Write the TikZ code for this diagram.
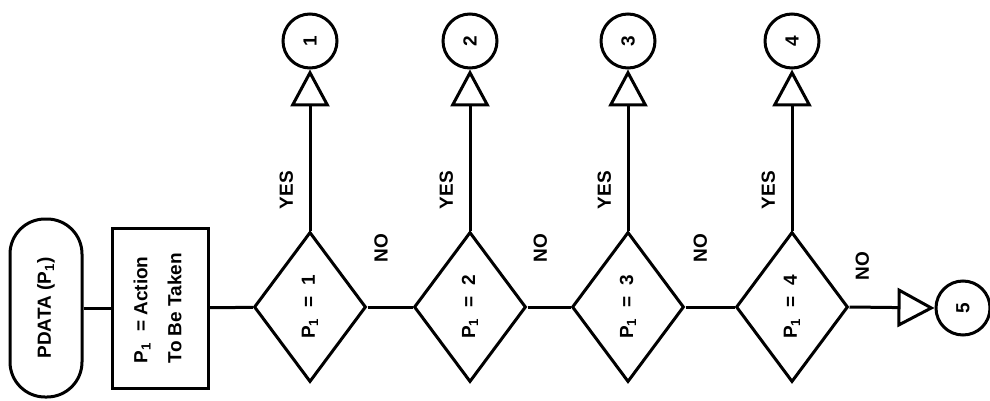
\documentclass[tikz,border=0pt]{standalone}
\usepackage{fontspec}
\setmainfont{Liberation Sans}
\usetikzlibrary{shapes.geometric,arrows.meta}

\tikzset{
  every node/.style={font=\bfseries\fontsize{19}{22}\selectfont},
  flowline/.style={line width=3pt},
  flowarrow/.style={flowline, -{Triangle[open,length=37pt,width=39pt,line width=3pt]}},
  terminal/.style={draw, line width=3pt, rounded corners=35pt,
    minimum width=72pt, minimum height=178pt, inner sep=0pt},
  process/.style={draw, line width=3pt, minimum width=96pt,
    minimum height=160pt, inner sep=0pt},
  test/.style={draw, diamond, line width=3pt, minimum width=112pt,
    minimum height=150pt, inner sep=0pt},
  connector/.style={draw, circle, line width=3pt, minimum size=54pt, inner sep=0pt}
}

\begin{document}
\begin{tikzpicture}[x=1pt,y=-1pt]
\useasboundingbox (0,0) rectangle (990,401);

\node[terminal] (start) at (46,308) {\rotatebox{90}{PDATA (P\textsubscript{1})}};
\node[process] (action) at (160,308) {\rotatebox{90}{\begin{tabular}{@{}l@{}}
  P\textsubscript{1} \ = Action\\[12pt] To Be Taken\end{tabular}}};
\draw[flowline] (start) -- (action);

% one test per action code, each with its exit connector
\foreach \x/\n in {310/1,470/2,628/3,792/4} {
  \node[test] (t\n) at (\x,307) {\rotatebox{90}{P\textsubscript{1} \ = \ \n}};
  \node[connector] (c\n) at (\x,41) {\rotatebox{90}{\n}};
  \draw[flowarrow] (t\n.north) -- node[pos=0.25, left=12pt] {\rotatebox{90}{YES}} (c\n.south);
}

\node[connector] (c5) at (963,308) {\rotatebox{90}{5}};

\draw[flowline] (action) -- (t1);
\draw[flowline] (t1.east) -- node[pos=0.3, above=40pt] {\rotatebox{90}{NO}} (t2.west);
\draw[flowline] (t2.east) -- node[pos=0.3, above=40pt] {\rotatebox{90}{NO}} (t3.west);
\draw[flowline] (t3.east) -- node[pos=0.3, above=40pt] {\rotatebox{90}{NO}} (t4.west);
\draw[flowarrow] (t4.east) -- node[pos=0.15, above=22pt] {\rotatebox{90}{NO}} (c5.west);
\end{tikzpicture}
\end{document}
